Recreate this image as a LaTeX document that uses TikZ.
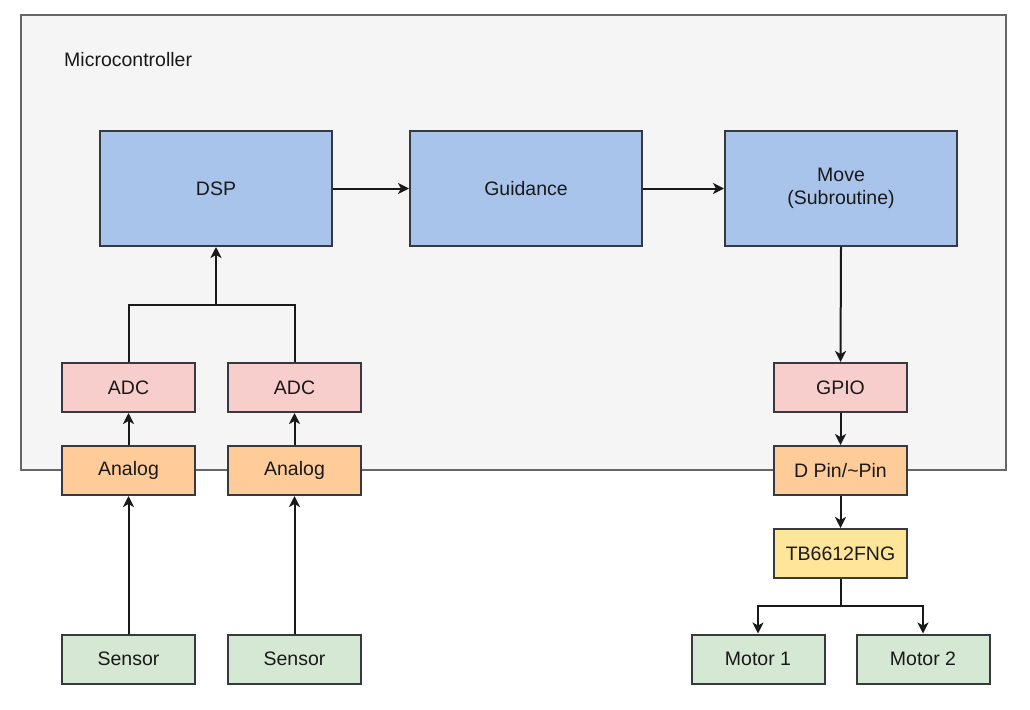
\documentclass[tikz,border=0pt]{standalone}
\usepackage{fontspec}
\setmainfont{Liberation Sans}
\usetikzlibrary{arrows.meta}
\definecolor{cont}{HTML}{F5F5F5}
\definecolor{contline}{HTML}{666666}
\definecolor{bluef}{HTML}{A9C4EB}
\definecolor{pinkf}{HTML}{F8CECC}
\definecolor{orangef}{HTML}{FFCC99}
\definecolor{yellowf}{HTML}{FFE599}
\definecolor{greenf}{HTML}{D5E8D4}
\definecolor{edge}{HTML}{36393D}
\begin{document}
\begin{tikzpicture}[x=1pt,y=-1pt,
  box/.style={draw=edge,line width=2pt,minimum width=133pt,minimum height=49pt,inner sep=0pt,font=\fontsize{19.5}{23}\selectfont,align=center,text=black!90},
  bigbox/.style={box,fill=bluef,minimum width=232pt,minimum height=115pt},
  adcbox/.style={box,fill=pinkf},
  anbox/.style={box,fill=orangef},
  tbbox/.style={box,fill=yellowf},
  gbox/.style={box,fill=greenf},
  conn/.style={draw=black!90,line width=2pt},
  arr/.style={conn,-{Stealth[length=11pt,width=11pt,inset=3pt]}}]
\useasboundingbox (0,0) rectangle (1030,709);
\fill[white] (0,0) rectangle (1030,709);
\node[draw=contline,fill=cont,line width=1.6pt,minimum width=985pt,minimum height=455pt,inner sep=0pt] (mc) at (513.5,242.5) {};
\node[anchor=west,inner sep=0pt,font=\fontsize{19.5}{23}\selectfont,text=black!90] (mclabel) at (64,60) {Microcontroller};
\node[bigbox] (dsp) at (216,188.5) {DSP};
\node[bigbox] (guid) at (526,188.5) {Guidance};
\node[bigbox] (move) at (841,188.5) {Move\\(Subroutine)};
\node[adcbox] (adc1) at (128.5,387.5) {ADC};
\node[adcbox] (adc2) at (294.5,387.5) {ADC};
\node[anbox] (an1) at (128.5,470.5) {Analog};
\node[anbox] (an2) at (294.5,470.5) {Analog};
\node[gbox] (s1) at (128.5,659) {Sensor};
\node[gbox] (s2) at (294.5,659) {Sensor};
\node[adcbox] (gpio) at (840.5,387.5) {GPIO};
\node[anbox] (dpin) at (840.5,470.5) {D Pin/\textasciitilde Pin};
\node[tbbox] (tb) at (840.5,553.5) {TB6612FNG};
\node[gbox] (m1) at (758,659) {Motor 1};
\node[gbox] (m2) at (923,659) {Motor 2};
\coordinate (j) at (216,305);
\draw[arr] (dsp.east) -- (guid.west);
\draw[arr] (guid.east) -- (move.west);
\draw[arr] (move.south) -- (gpio.north);
\draw[arr] (gpio.south) -- (dpin.north);
\draw[arr] (dpin.south) -- (tb.north);
\draw[conn] (adc1.north) |- (j) -| (adc2.north);
\draw[arr] (j) -- (dsp.south);
\draw[arr] (an1.north) -- (adc1.south);
\draw[arr] (an2.north) -- (adc2.south);
\draw[arr] (s1.north) -- (an1.south);
\draw[arr] (s2.north) -- (an2.south);
\coordinate (b) at (840.5,606);
\draw[conn] (tb.south) -- (b);
\draw[arr] (b) -| (m1.north);
\draw[arr] (b) -| (m2.north);
\end{tikzpicture}
\end{document}
